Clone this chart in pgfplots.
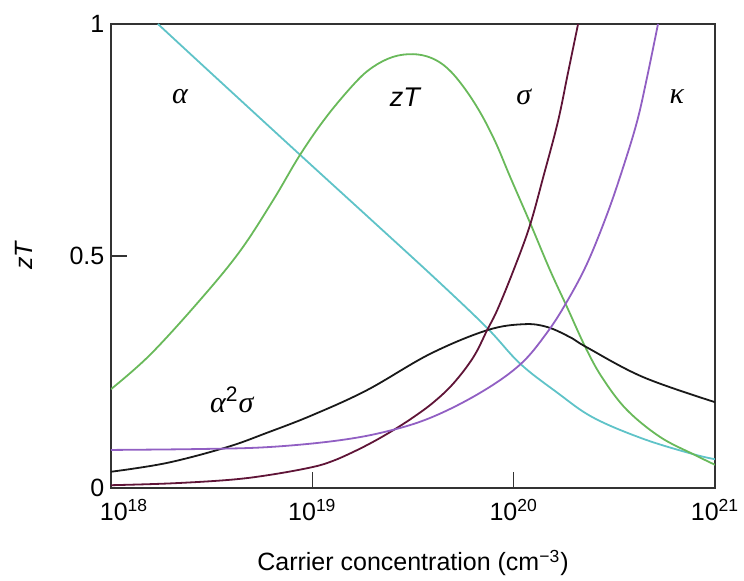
\documentclass[border=0pt]{standalone}
\usepackage{pgfplots}
\pgfplotsset{compat=1.18}
\usepackage{fontspec}
\setmainfont{Liberation Sans}
\newfontfamily\grk{Liberation Serif}
\definecolor{cA}{RGB}{95,195,200}
\definecolor{cZ}{RGB}{105,185,90}
\definecolor{cS}{RGB}{95,20,55}
\definecolor{cK}{RGB}{145,95,195}
\definecolor{cP}{RGB}{25,25,25}
\begin{document}
\fontsize{12.5}{15}\selectfont
\begin{tikzpicture}
\path[use as bounding box] (-55.5pt,-46.5pt) rectangle (316.5pt,244pt);
\begin{axis}[
  scale only axis, width=302pt, height=232pt,
  xmin=18, xmax=21, ymin=0, ymax=1,
  xtick={18,19,20,21},
  xticklabels={\hspace{13pt}10\textsuperscript{18},10\textsuperscript{19},10\textsuperscript{20},10\textsuperscript{21}},
  ytick={0,0.5,1}, yticklabels={0,0.5,1},
  xtick pos=bottom, ytick pos=left,
  tick align=inside, major tick length=8pt,
  axis line style={black!80, line width=0.6pt},
  tick style={black!80, line width=0.6pt},
  /pgf/number format/assume math mode=true,
  ticklabel style={font=\fontsize{12.5}{15}\selectfont},
  xticklabel style={yshift=-1.5pt},
  yticklabel style={xshift=1pt},
  xlabel={Carrier concentration (cm\textsuperscript{−3})},
  ylabel={\itshape zT},
  xlabel style={at={(axis description cs:0.5,-0.1616)}, anchor=center, font=\fontsize{12.5}{15}\selectfont},
  ylabel style={at={(axis description cs:-0.145,0.5)}, anchor=center, font=\fontsize{12.5}{15}\selectfont},
  every axis plot/.append style={line width=0.9pt, smooth, tension=0.6},
]
% alpha
\addplot[cA] coordinates {
(18.233,1.0) (18.5,0.893) (18.939,0.718) (19.3,0.575) (19.619,0.448) (19.868,0.345)
(20.032,0.268) (20.215,0.206) (20.394,0.152) (20.643,0.106) (20.891,0.073) (21.0,0.062)};
% zT
\addplot[cZ] coordinates {
(18.0,0.213) (18.194,0.287) (18.442,0.405) (18.64,0.51) (18.805,0.62) (18.939,0.718)
(19.07,0.80) (19.212,0.873) (19.30,0.907) (19.40,0.929) (19.50,0.935) (19.59,0.927)
(19.67,0.905) (19.75,0.865) (19.833,0.81) (19.91,0.745) (19.983,0.67) (20.082,0.571)
(20.18,0.47) (20.265,0.39) (20.36,0.30) (20.444,0.235) (20.563,0.168) (20.727,0.11)
(20.891,0.073) (21.0,0.05)};
% alpha^2 sigma
\addplot[cP] coordinates {
(18.0,0.035) (18.278,0.054) (18.576,0.088) (18.775,0.119) (19.0,0.157) (19.272,0.211)
(19.585,0.289) (19.868,0.34) (20.05,0.353) (20.166,0.347) (20.28,0.325)
(20.364,0.303) (20.643,0.239) (21.0,0.185)};
% sigma
\addplot[cS] coordinates {
(18.0,0.006) (18.3,0.01) (18.6,0.018) (18.8,0.029) (19.0,0.045) (19.1,0.058)
(19.2,0.077) (19.3,0.099) (19.4,0.124) (19.5,0.152) (19.6,0.184) (19.7,0.225)
(19.8,0.282) (19.868,0.34) (19.92,0.385) (20.0,0.47) (20.08,0.565) (20.15,0.675)
(20.22,0.79) (20.27,0.895) (20.32,1.0)};
% kappa
\addplot[cK] coordinates {
(18.0,0.082) (18.442,0.084) (18.775,0.088) (19.103,0.101) (19.351,0.12) (19.585,0.151)
(19.833,0.205) (20.032,0.266) (20.166,0.335) (20.265,0.402) (20.365,0.484) (20.464,0.59)
(20.543,0.69) (20.613,0.79) (20.663,0.886) (20.717,1.0)};
\node at (axis cs:18.343,0.843) {\fontsize{15}{18}\selectfont\grk\itshape α};
\node at (axis cs:19.46,0.843) {\fontsize{13.5}{16}\selectfont\itshape zT};
\node at (axis cs:20.05,0.843) {\fontsize{15}{18}\selectfont\grk\itshape σ};
\node at (axis cs:20.81,0.843) {\fontsize{15}{18}\selectfont\grk\itshape κ};
\node at (axis cs:18.60,0.19) {\fontsize{15}{18}\selectfont{\grk\itshape α}\textsuperscript{2}{\grk\itshape σ}};
\end{axis}
\end{tikzpicture}
\end{document}
